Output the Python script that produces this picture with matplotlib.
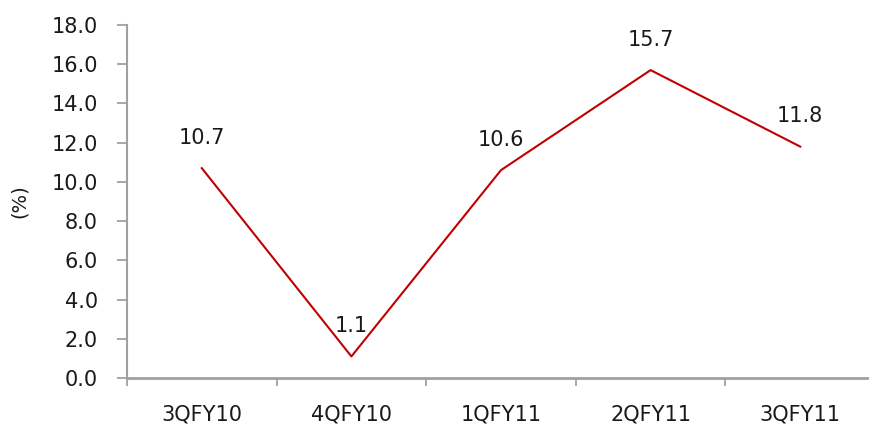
import numpy as np
import matplotlib.pyplot as plt

# Quarterly growth (%)
quarters = ['3QFY10', '4QFY10', '1QFY11', '2QFY11', '3QFY11']
growth = [10.7, 1.1, 10.6, 15.7, 11.8]

plt.rcParams['font.family'] = ['DejaVu Sans']

fig = plt.figure(figsize=(8.69, 4.24), dpi=100)
ax = fig.add_axes([127 / 869, 46 / 424, 748 / 869, 353 / 424])

x = np.arange(len(quarters))
ax.plot(x, growth, color='#C00000', linewidth=1.5)

for xi, v in zip(x, growth):
    ax.annotate(f'{v:.1f}', (xi, v), xytext=(0, 22), textcoords='offset points',
                ha='center', va='center', fontsize=15, color='#1a1a1a')

ax.set_xlim(-0.5, len(quarters) - 0.5)
ax.set_ylim(0, 18)
ax.set_yticks(np.arange(0, 18.1, 2))
ax.set_yticklabels([f'{t:.1f}' for t in np.arange(0, 18.1, 2)])

# category labels centred, tick marks on the boundaries
ax.set_xticks(np.arange(-0.5, len(quarters), 1))
ax.set_xticklabels([])
ax.set_xticks(x, minor=True)
ax.set_xticklabels(quarters, minor=True)
ax.tick_params(axis='x', which='major', length=6, width=1.3, color='#A0A0A0', direction='out')
ax.tick_params(axis='x', which='minor', length=0, pad=19, labelsize=15, labelcolor='#1a1a1a')
ax.tick_params(axis='y', length=7, width=1.3, color='#A0A0A0', labelsize=15,
               labelcolor='#1a1a1a', pad=14)

for side in ['top', 'right']:
    ax.spines[side].set_visible(False)
ax.spines['left'].set_color('#A0A0A0')
ax.spines['left'].set_linewidth(1.5)
ax.spines['bottom'].set_color('#A0A0A0')
ax.spines['bottom'].set_linewidth(2)

ax.set_ylabel('(%)', fontsize=14, color='#1a1a1a', labelpad=16)

fig.savefig('out.png', dpi=100)
